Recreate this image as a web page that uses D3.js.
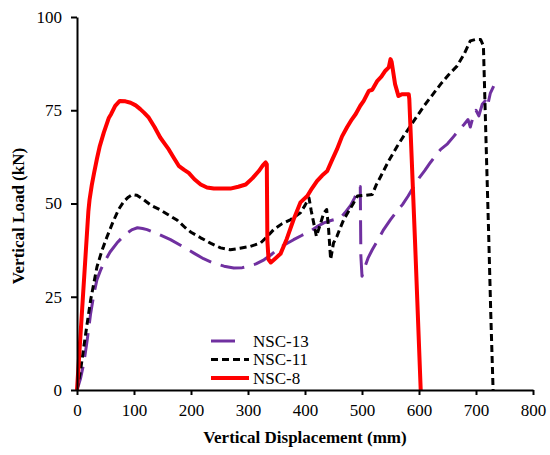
<!DOCTYPE html>
<html>
<head>
<meta charset="utf-8">
<script src="https://cdn.jsdelivr.net/npm/d3@7"></script>
<style>
  body { margin: 0; background: #fff; }
  text { font-family: "Liberation Serif", "Times New Roman", serif; }
</style>
</head>
<body>
<div id="chart"></div>
<script>
// data
const xTicks = [0, 100, 200, 300, 400, 500, 600, 700, 800];
const yTicks = [0, 25, 50, 75, 100];

const nsc13X = [0, 6, 12, 18, 24, 30, 35, 41, 47, 58, 70, 80, 88, 97, 106, 115, 123, 143, 164, 185, 205, 222, 240, 258, 275, 290, 299, 314, 328, 340, 351, 365, 380, 395, 410, 421, 433, 447, 462, 470, 480, 487, 494, 497, 497.5, 498, 500, 505, 511, 518, 528, 538, 550, 560, 571, 581, 591, 600, 610, 620, 629, 638, 650, 661, 669, 679, 686, 690, 696, 700, 705, 711, 716, 720, 725, 731];
const nsc13Y = [0, 3, 7.2, 13.5, 20.6, 26, 29.6, 32, 34, 37, 39.4, 41, 42.1, 43, 43.5, 43.3, 43, 41.8, 40.3, 38.5, 36.7, 35.2, 34, 33.2, 32.7, 32.8, 33.1, 33.8, 34.9, 36.2, 37.6, 39, 40.3, 41.5, 42.6, 43.8, 44.8, 45.5, 46.1, 47.5, 49.5, 51.5, 54, 54.5, 45, 36, 30.5, 33, 35.5, 37.6, 40.3, 43, 45.7, 47.7, 49.7, 52, 54.6, 56.8, 58.8, 61, 62.8, 64.5, 66, 68, 69.5, 71.2, 72.5, 70.5, 73.9, 75, 73.5, 76.6, 77.5, 76, 79.5, 81.5];

const nsc11X = [0, 6, 12, 18, 24, 30, 35, 44, 53, 63, 73, 82, 90, 97, 105, 117, 130, 146, 160, 176, 190, 200, 217, 235, 252, 269, 286, 304, 322, 333, 345, 360, 375, 392, 400, 407, 411, 415, 420, 427, 433, 438, 441, 445, 450, 456, 462, 468, 476, 484, 492, 505, 518, 525, 533, 547, 562, 574, 585, 597, 609, 623, 638, 652, 667, 679, 690, 700, 708, 713, 717, 722, 726, 730];
const nsc11Y = [0, 5, 11.6, 18, 24.2, 29, 33, 37.5, 41.2, 45, 48.4, 50.5, 51.7, 52.4, 52.2, 51, 49.5, 48.3, 47, 45.5, 43.5, 42.3, 40.8, 39.3, 38.1, 37.6, 38, 38.5, 39.4, 41, 43, 44.6, 45.7, 47.5, 49.5, 51.5, 48, 45, 41.2, 44.5, 47.5, 48.4, 44, 35, 39.4, 41.2, 43.5, 45.7, 47.8, 49.8, 52, 52.2, 52.4, 55, 57.3, 61.5, 65.4, 68.3, 70.8, 73.5, 76.2, 79, 82, 84.5, 86.9, 90, 93.6, 94, 94, 92.3, 70, 43, 20, 0];

const nsc8X = [0, 5, 10, 15, 20, 22, 26, 30, 35, 40, 47, 56, 60, 67, 75, 85, 94, 103, 111, 118, 126, 136, 146, 154, 161, 170, 179, 188, 196, 206, 217, 228, 240, 255, 269, 283, 296, 308, 319, 326, 331, 333, 334, 336, 340, 346, 357, 368, 380, 392, 404, 412, 421, 430, 439, 447, 456, 465, 474, 482, 489, 497, 503, 512, 518, 527, 534, 541, 547, 550, 552, 558, 564, 570, 582, 583, 593, 603];
const nsc8Y = [0, 12, 24, 36, 48, 51, 55, 58.2, 62, 65.4, 69, 73, 74, 76.2, 77.5, 77.4, 77, 76.3, 75.3, 74.3, 73, 70.5, 67.7, 66, 64.5, 62.2, 60, 59, 58.2, 56.5, 55.1, 54.3, 54, 54, 54, 54.5, 55.1, 56.8, 58.7, 60.2, 61, 60.5, 40, 35, 34.2, 35, 36.5, 40.5, 45.7, 50.3, 52, 54, 56, 57.5, 58.7, 61.5, 64.5, 68, 70.5, 72.5, 74, 76.2, 77.5, 80.2, 80.5, 82.9, 84, 85.6, 86.5, 88.7, 88, 82, 78.8, 79.3, 79.3, 78, 40, 0];

const seriesNames = ["NSC-13", "NSC-11", "NSC-8"];
const seriesX = [nsc13X, nsc11X, nsc8X];
const seriesY = [nsc13Y, nsc11Y, nsc8Y];

const W = 550, H = 455;
const margin = {top: 17, right: 17, bottom: 65, left: 77};
const pw = W - margin.left - margin.right;
const ph = H - margin.top - margin.bottom;

const styles = [
  {color: "#7030a0", width: 3, dash: "24,10"},
  {color: "#000000", width: 3, dash: "7,4"},
  {color: "#ff0000", width: 4, dash: null}
];

const svg = d3.select("#chart").append("svg")
  .attr("width", W)
  .attr("height", H);

const g = svg.append("g")
  .attr("transform", "translate(" + margin.left + "," + margin.top + ")");

const x = d3.scaleLinear().domain([0, 800]).range([0, pw]);
const y = d3.scaleLinear().domain([0, 100]).range([ph, 0]);

// lines
const line = d3.line()
  .x(d => x(d[0]))
  .y(d => y(d[1]));

seriesNames.forEach(function(name, i) {
  const pts = seriesX[i].map((v, j) => [v, seriesY[i][j]]);
  g.append("path")
    .datum(pts)
    .attr("fill", "none")
    .attr("stroke", styles[i].color)
    .attr("stroke-width", styles[i].width)
    .attr("stroke-dasharray", styles[i].dash)
    .attr("stroke-linejoin", "round")
    .attr("d", line);
});

// axes
const xAxis = g.append("g")
  .attr("transform", "translate(0," + ph + ")")
  .call(d3.axisBottom(x).tickValues(xTicks).tickSize(5).tickPadding(9).tickSizeOuter(0));
const yAxis = g.append("g")
  .call(d3.axisLeft(y).tickValues(yTicks).tickSize(6).tickPadding(9).tickSizeOuter(0));

[xAxis, yAxis].forEach(function(a) {
  a.select(".domain").attr("stroke", "#000").attr("stroke-width", 2);
  a.selectAll(".tick line").attr("stroke", "#000").attr("stroke-width", 2);
  a.selectAll(".tick text")
    .attr("fill", "#000")
    .style("font-size", "17px")
    .style("font-family", "'Liberation Serif', serif");
});

// axis titles
svg.append("text")
  .attr("x", margin.left + pw / 2)
  .attr("y", 443)
  .attr("text-anchor", "middle")
  .style("font-size", "17px")
  .style("font-weight", "bold")
  .text("Vertical Displacement (mm)");

svg.append("text")
  .attr("transform", "translate(24,216) rotate(-90)")
  .attr("text-anchor", "middle")
  .style("font-size", "17px")
  .style("font-weight", "bold")
  .text("Vertical Load (kN)");

// legend
const legend = svg.append("g").attr("transform", "translate(211,341)");
seriesNames.forEach(function(name, i) {
  const row = legend.append("g").attr("transform", "translate(0," + (i * 18.5) + ")");
  row.append("line")
    .attr("x1", 0).attr("x2", i === 0 ? 26 : 38)
    .attr("y1", 0).attr("y2", 0)
    .attr("stroke", styles[i].color)
    .attr("stroke-width", styles[i].width)
    .attr("stroke-dasharray", styles[i].dash);
  row.append("text")
    .attr("x", 42)
    .attr("y", 0)
    .attr("dy", "0.35em")
    .style("font-size", "17px")
    .text(name);
});
</script>
</body>
</html>
